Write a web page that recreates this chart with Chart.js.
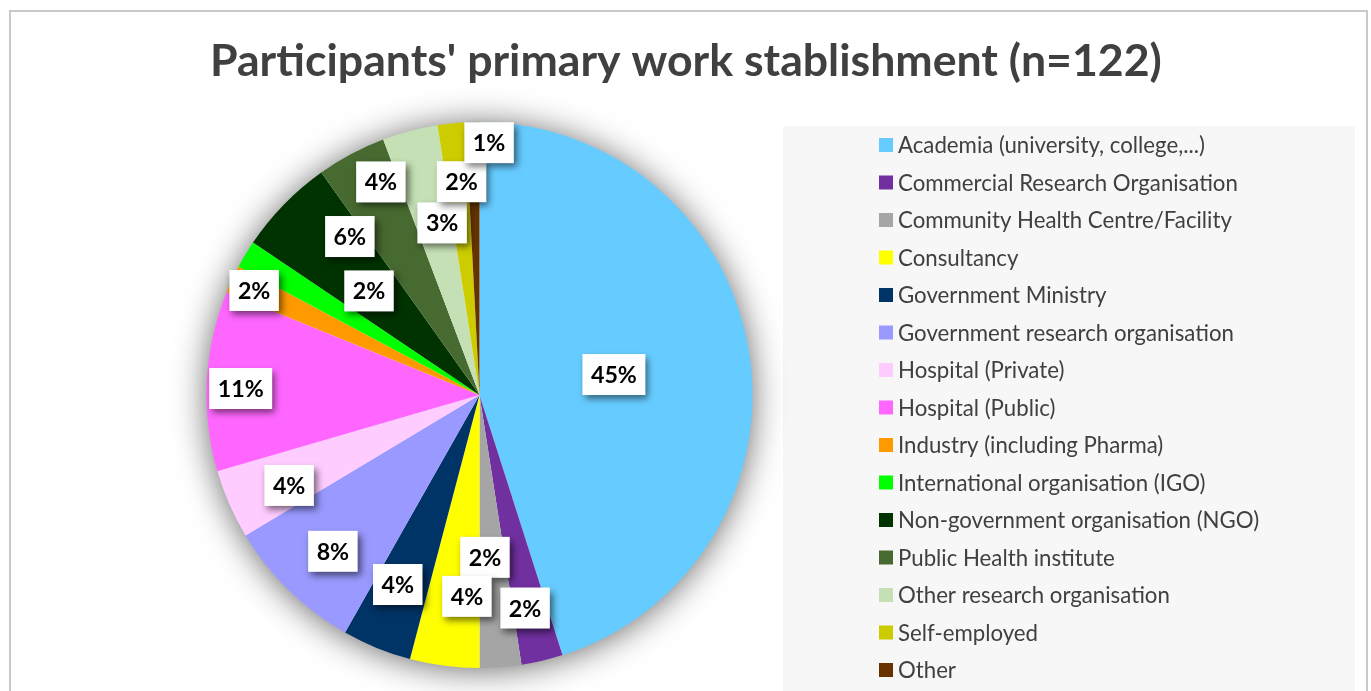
<!DOCTYPE html>
<html>
<head>
<meta charset="utf-8">
<script src="https://cdn.jsdelivr.net/npm/chart.js@4.4.1/dist/chart.umd.min.js"></script>
<style>
html, body { margin: 0; padding: 0; background: #ffffff; overflow: hidden; width: 1371px; height: 691px; }
#frame { position: absolute; left: 9px; top: 10px; width: 1359px; height: 760px; box-sizing: border-box; border: 2px solid #c9c9c9; }
#c { position: absolute; left: 0; top: 0; }
</style>
</head>
<body>
<div id="frame"></div>
<canvas id="c" width="1371" height="691"></canvas>
<script>
// ---- data ----
const titleText = "Participants' primary work stablishment (n=122)";
const categories = [
  'Academia (university, college,...)',
  'Commercial Research Organisation',
  'Community Health Centre/Facility',
  'Consultancy',
  'Government Ministry',
  'Government research organisation',
  'Hospital (Private)',
  'Hospital (Public)',
  'Industry (including Pharma)',
  'International organisation (IGO)',
  'Non-government organisation (NGO)',
  'Public Health institute',
  'Other research organisation',
  'Self-employed',
  'Other'
];
const counts = [55, 3, 3, 5, 5, 10, 5, 13, 2, 2, 7, 5, 4, 2, 1];
const sliceColors = [
  '#66CCFF', '#7030A0', '#A5A5A5', '#FFFF00', '#003366',
  '#9999FF', '#FFCCFF', '#FF66FF', '#FF9900', '#00FF00',
  '#003300', '#476A30', '#C5E0B4', '#CCCC00', '#663300'
];
// label placement (Excel "best fit" look): angle shift from slice middle (deg) and radius fraction
const labelAngleShift = [0.2, 1.2, 2.5, -3.8, 1.2, -1.1, -1.8, -1.4, -0.2, 12.3, 6.45, 3.2, 2.5, 1.1, 3.65];
const labelRadiusFrac = [0.498, 0.798, 0.595, 0.739, 0.756, 0.785, 0.772, 0.875, 0.91, 0.556, 0.75, 0.86, 0.645, 0.784, 0.925];

// ---- font fitting helpers ----
const mctx = document.createElement('canvas').getContext('2d');
function fitSize(text, weight, family, target) {
  mctx.font = weight + ' 100px ' + family;
  return 100 * target / mctx.measureText(text).width;
}
const FAMILY = 'Lato, "Open Sans", sans-serif';
const titleSize = fitSize(titleText, 'bold', FAMILY, 952);
const legendSize = fitSize('Commercial Research Organisation', 'normal', FAMILY, 340);
const labelSize = fitSize('45%', 'bold', FAMILY, 46);
const titleLH = titleSize * 1.2;
const titleCenterY = 62;
const LEGEND_W = 622;

const total = counts.reduce((a, b) => a + b, 0);

// ---- plugins ----
const pieShadow = {
  id: 'pieShadow',
  beforeDatasetsDraw(chart) {
    const arc = chart.getDatasetMeta(0).data[0];
    if (!arc) return;
    const ctx = chart.ctx;
    ctx.save();
    ctx.shadowColor = 'rgba(0,0,0,0.62)';
    ctx.shadowBlur = 34;
    ctx.shadowOffsetX = 0;
    ctx.shadowOffsetY = 2;
    ctx.fillStyle = '#ffffff';
    ctx.beginPath();
    ctx.arc(arc.x, arc.y, arc.outerRadius - 1, 0, Math.PI * 2);
    ctx.fill();
    ctx.restore();
  }
};

// custom legend as a Chart.js layout box on the right
const legendPanel = {
  id: 'legendPanel',
  beforeInit(chart) {
    const box = {
      position: 'right',
      weight: 0,
      fullSize: false,
      options: {},
      left: 0, top: 0, right: 0, bottom: 0, width: 0, height: 0,
      isHorizontal() { return false; },
      update(maxWidth, maxHeight) { this.width = LEGEND_W; this.height = maxHeight; },
      draw() {
        const ctx = chart.ctx;
        const ds = chart.data.datasets[0];
        const px = this.left + 34, py = this.top + 4;
        ctx.save();
        ctx.fillStyle = '#f7f7f7';
        ctx.fillRect(px, py, 572, chart.height - py);
        ctx.font = 'normal ' + legendSize + 'px ' + FAMILY;
        ctx.textBaseline = 'middle';
        ctx.textAlign = 'left';
        chart.data.labels.forEach((lab, i) => {
          const cy = this.top + 23 + i * 37.5;
          ctx.fillStyle = ds.backgroundColor[i];
          ctx.fillRect(this.left + 130, cy - 7, 14, 14);
          ctx.fillStyle = '#404040';
          ctx.fillText(lab, this.left + 149, cy + 1);
        });
        ctx.restore();
      }
    };
    Chart.layouts.addBox(chart, box);
  }
};

const boxLabels = {
  id: 'boxLabels',
  afterDatasetsDraw(chart) {
    const meta = chart.getDatasetMeta(0);
    const values = chart.data.datasets[0].data;
    const ctx = chart.ctx;
    ctx.save();
    ctx.font = 'bold ' + labelSize + 'px ' + FAMILY;
    ctx.textAlign = 'center';
    ctx.textBaseline = 'middle';
    meta.data.forEach((arc, i) => {
      const txt = Math.round(values[i] / total * 100) + '%';
      const mid = (arc.startAngle + arc.endAngle) / 2 + labelAngleShift[i] * Math.PI / 180;
      const r = arc.outerRadius * labelRadiusFrac[i];
      const x = arc.x + Math.cos(mid) * r;
      const y = arc.y + Math.sin(mid) * r;
      const tw = ctx.measureText(txt).width;
      const w = tw + 17, h = 41;
      ctx.shadowColor = 'rgba(0,0,0,0.55)';
      ctx.shadowBlur = 7;
      ctx.shadowOffsetX = 3;
      ctx.shadowOffsetY = 4;
      ctx.fillStyle = '#ffffff';
      ctx.fillRect(x - w / 2, y - h / 2, w, h);
      ctx.shadowColor = 'rgba(0,0,0,0)';
      ctx.shadowBlur = 0;
      ctx.shadowOffsetX = 0;
      ctx.shadowOffsetY = 0;
      ctx.fillStyle = '#000000';
      ctx.fillText(txt, x, y + 1);
    });
    ctx.restore();
  }
};

new Chart(document.getElementById('c'), {
  type: 'pie',
  data: {
    labels: categories,
    datasets: [{
      data: counts,
      backgroundColor: sliceColors,
      borderWidth: 0,
      hoverOffset: 0
    }]
  },
  options: {
    responsive: false,
    animation: false,
    radius: 273,
    layout: { padding: { left: 210, right: 0, top: 0, bottom: 691 - 668 } },
    plugins: {
      legend: { display: false },
      tooltip: { enabled: false },
      title: {
        display: true,
        text: titleText,
        align: 'start',
        color: '#404040',
        font: { family: FAMILY, weight: 'bold', size: titleSize, lineHeight: 1.2 },
        padding: { top: titleCenterY - titleLH / 2, bottom: 122 - titleCenterY - titleLH / 2 }
      }
    }
  },
  plugins: [pieShadow, legendPanel, boxLabels]
});
</script>
</body>
</html>
